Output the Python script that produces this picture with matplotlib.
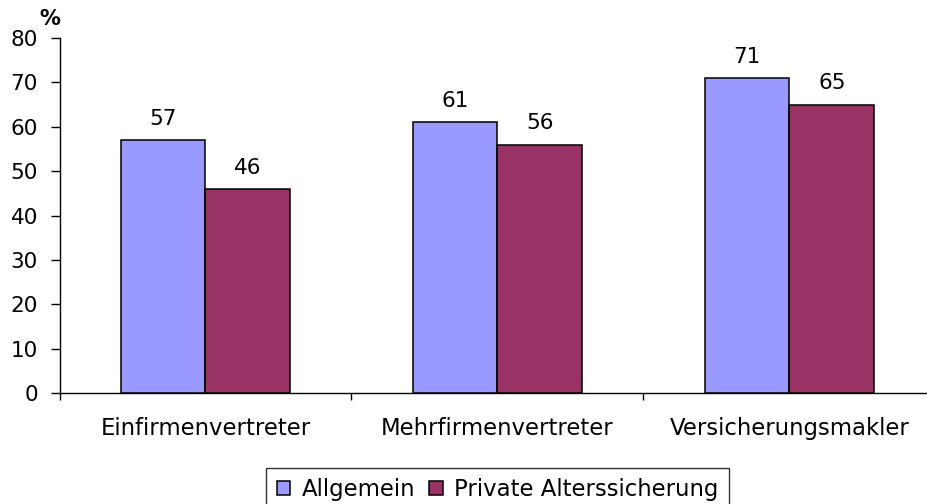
import matplotlib
matplotlib.use("Agg")
import matplotlib.pyplot as plt
import numpy as np

categories = ["Einfirmenvertreter", "Mehrfirmenvertreter", "Versicherungsmakler"]
series_names = ["Allgemein", "Private Alterssicherung"]
allgemein = [57, 61, 71]
private = [46, 56, 65]
yticks = [0, 10, 20, 30, 40, 50, 60, 70, 80]

colors = ["#9999FF", "#993366"]

plt.rcParams['font.family'] = ['DejaVu Sans']

W, H = 927, 504
fig = plt.figure(figsize=(W / 100, H / 100), dpi=100)
left, right_px = 59.5, 59.5 + 3 * 292
top_px, bot_px = 38, 393
ax = fig.add_axes([left / W, 1 - bot_px / H, (right_px - left) / W, (bot_px - top_px) / H])

x = np.arange(len(categories))
bw = 0.29
for i, (vals, name) in enumerate(zip([allgemein, private], series_names)):
    offs = -bw / 2 if i == 0 else bw / 2
    bars = ax.bar(x + offs, vals, width=bw, color=colors[i], edgecolor="black",
                  linewidth=1.1, label=name, zorder=3)
    for b, v in zip(bars, vals):
        ax.annotate(str(v), (b.get_x() + b.get_width() / 2, v), xytext=(0, 11),
                    textcoords="offset points", ha="center", va="baseline",
                    fontsize=15.5)

ax.set_xlim(-0.5, 2.5)
ax.set_ylim(0, 80)
ax.set_yticks(yticks)
ax.tick_params(axis="y", direction="out", length=6.5, width=1, labelsize=15.5, pad=9)
ax.set_xticks(x)
ax.set_xticklabels(categories, fontsize=16.4)
ax.tick_params(axis="x", which="major", length=0, pad=17)
ax.set_xticks([-0.5, 0.5, 1.5], minor=True)
ax.tick_params(axis="x", which="minor", direction="out", length=5, width=1)

for s in ["top", "right"]:
    ax.spines[s].set_visible(False)
for s in ["left", "bottom"]:
    ax.spines[s].set_linewidth(1)
    ax.spines[s].set_color("black")

fig.text(50 / W, 1 - 19 / H, "%", ha="center", va="center", fontsize=15, fontweight="bold")

leg = fig.legend(loc="upper center", bbox_to_anchor=(497.5 / W, 1 - 468 / H),
                 ncol=2, fontsize=16.4, frameon=True, fancybox=False,
                 handlelength=0.6, handleheight=0.6, handletextpad=0.5,
                 columnspacing=0.6, borderpad=0.45, borderaxespad=0)
leg.get_frame().set_edgecolor("black")
leg.get_frame().set_linewidth(1)

fig.savefig("out.png", dpi=100)
